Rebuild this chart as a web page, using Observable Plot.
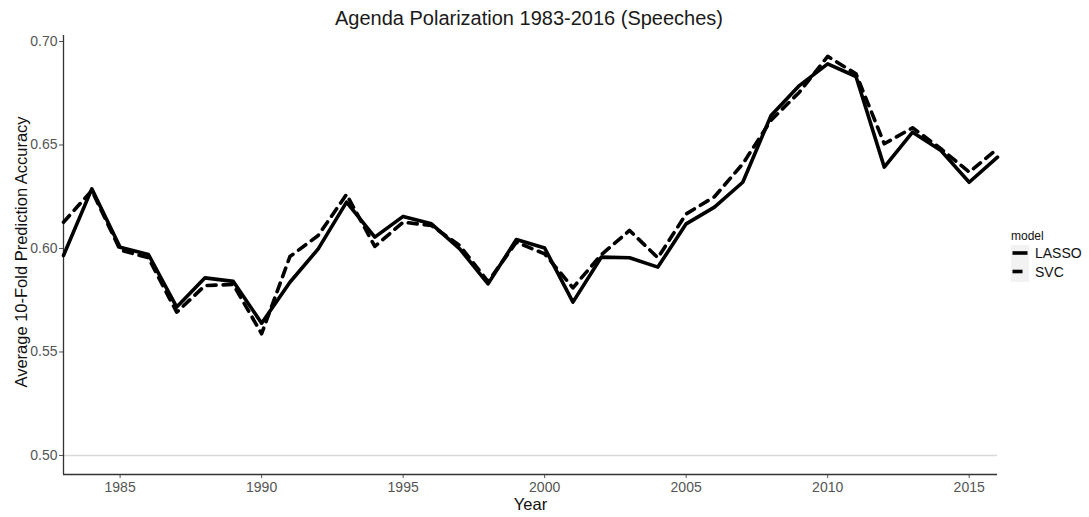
<!DOCTYPE html>
<html><head><meta charset="utf-8">
<script src="https://cdn.jsdelivr.net/npm/d3@7"></script>
<script src="https://cdn.jsdelivr.net/npm/@observablehq/plot@0.6"></script>
<style>
body{margin:0;background:#fff;font-family:"Liberation Sans",Arial,sans-serif;}
#wrap{position:relative;width:1089px;height:517px;overflow:hidden;}
#title{position:absolute;left:0;width:1058px;top:7px;text-align:center;font-size:20px;color:#1a1a1a;line-height:22px;}
#legend{position:absolute;left:1000px;top:222px;}
</style></head><body>
<div id="wrap"><div id="chart"></div><div id="title">Agenda Polarization 1983-2016 (Speeches)</div><div id="legend"></div></div>
<script>
const years = [1983,1984,1985,1986,1987,1988,1989,1990,1991,1992,1993,1994,1995,1996,1997,1998,1999,2000,2001,2002,2003,2004,2005,2006,2007,2008,2009,2010,2011,2012,2013,2014,2015,2016];
const lasso = [0.5966,0.6288,0.6006,0.5971,0.5717,0.5858,0.5841,0.5639,0.5837,0.5998,0.6224,0.6055,0.6155,0.6119,0.5998,0.5829,0.6043,0.6002,0.5741,0.5958,0.5955,0.5910,0.6119,0.6200,0.6320,0.6643,0.6787,0.6892,0.6831,0.6393,0.6562,0.6473,0.6320,0.6441];
const svc = [0.6127,0.6280,0.5993,0.5955,0.5692,0.5821,0.5826,0.5588,0.5961,0.6063,0.6261,0.6010,0.6127,0.6111,0.6014,0.5840,0.6030,0.5974,0.5810,0.5970,0.6087,0.5955,0.6167,0.6250,0.6409,0.6620,0.6755,0.6928,0.6844,0.6506,0.6583,0.6482,0.6369,0.6482];
const models = ["LASSO","SVC"];
const yTicks = [0.50,0.55,0.60,0.65,0.70];
const xTicks = [1985,1990,1995,2000,2005,2010,2015];

const lassoData = years.map((yr,i)=>({Year:yr, value:lasso[i], model:models[0]}));
const svcData = years.map((yr,i)=>({Year:yr, value:svc[i], model:models[1]}));
const yMin = 0.4908, yMax = 0.7029;

const chart = Plot.plot({
  width:1089, height:517, marginLeft:63, marginRight:92, marginTop:35, marginBottom:43,
  style:{fontFamily:"'Liberation Sans', Arial, sans-serif", fontSize:"14px", background:"white"},
  x:{domain:[1983,2016], label:null},
  y:{domain:[yMin,yMax], label:null},
  marks:[
    Plot.ruleY([0.5],{stroke:"#d9d9d9", strokeWidth:1.5}),
    Plot.axisY({ticks:yTicks, tickFormat:d3.format(".2f"), tickSize:4, tickPadding:2, color:"#555", label:null}),
    Plot.axisX({ticks:xTicks, tickFormat:d=>String(d), tickSize:4, tickPadding:4, color:"#555", label:null}),
    Plot.ruleX([1983],{stroke:"#333", strokeWidth:1.3}),
    Plot.ruleY([yMin],{stroke:"#333", strokeWidth:1.3}),
    Plot.line(lassoData,{x:"Year", y:"value", stroke:"black", strokeWidth:3.6}),
    Plot.line(svcData,{x:"Year", y:"value", stroke:"black", strokeWidth:3.6, strokeDasharray:"9,7"}),
    Plot.text(["Average 10-Fold Prediction Accuracy"],{text:d=>d, frameAnchor:"left", textAnchor:"middle", lineAnchor:"middle", rotate:-90, dx:-42, dy:-3, fontSize:16.5, fill:"#111"}),
    Plot.text(["Year"],{text:d=>d, frameAnchor:"bottom", textAnchor:"middle", lineAnchor:"middle", dy:30, fontSize:16.5, fill:"#111"})
  ]
});
document.getElementById("chart").appendChild(chart);

// legend
const lg = d3.select("#legend").append("svg").attr("width",89).attr("height",70);
lg.append("text").attr("x",11).attr("y",18).attr("font-size",12).attr("fill","#111").text("model");
lg.append("rect").attr("x",11).attr("y",23).attr("width",18).attr("height",37).attr("fill","#f2f2f2");
models.forEach((m,i)=>{
  const cy = 31 + i*18.5;
  lg.append("line").attr("x1",12.5).attr("x2",27.5).attr("y1",cy).attr("y2",cy)
    .attr("stroke","black").attr("stroke-width",3.6).attr("stroke-dasharray", i===1 ? "10,7" : null);
  lg.append("text").attr("x",35).attr("y",cy+5).attr("font-size",14).attr("fill","#111").text(m);
});
</script>
</body></html>
